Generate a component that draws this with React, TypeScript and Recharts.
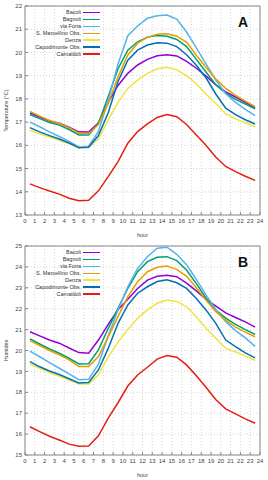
import React from 'react';
import { LineChart, Line, XAxis, YAxis, CartesianGrid, ReferenceArea } from 'recharts';

// half-hour sample points
const hours = [
  0.5, 1.5, 2.5, 3.5, 4.5, 5.5, 6.5, 7.5, 8.5, 9.5, 10.5, 11.5,
  12.5, 13.5, 14.5, 15.5, 16.5, 17.5, 18.5, 19.5, 20.5, 21.5, 22.5, 23.5,
];
const xTicks = [0, 1, 2, 3, 4, 5, 6, 7, 8, 9, 10, 11, 12, 13, 14, 15, 16, 17, 18, 19, 20, 21, 22, 23, 24];
const tempTicks = [13, 14, 15, 16, 17, 18, 19, 20, 21, 22];
const humidexTicks = [15, 16, 17, 18, 19, 20, 21, 22, 23, 24, 25];

const stations = ['Bacoli', 'Bagnoli', 'via Foria', 'S. Marcellino Obs.', 'Denza', 'Capodimonte Obs.', 'Camaldoli'];
const colors = ['#9400d3', '#009e73', '#56b4e9', '#e69f00', '#f0e442', '#0072b2', '#e51e10'];

// panel A - temperature
const bacoliT = [17.4, 17.22, 17.05, 16.95, 16.78, 16.58, 16.57, 16.97, 17.85, 18.58, 19.1, 19.46, 19.7, 19.86, 19.9, 19.85, 19.62, 19.32, 18.98, 18.6, 18.3, 18.08, 17.85, 17.62];
const bagnoliT = [17.33, 17.15, 16.98, 16.87, 16.68, 16.45, 16.44, 16.95, 18.1, 19.3, 20.1, 20.46, 20.66, 20.73, 20.7, 20.56, 20.25, 19.7, 19.15, 18.6, 18.25, 17.98, 17.78, 17.57];
const viaForiaT = [17.0, 16.8, 16.58, 16.38, 16.17, 15.93, 15.96, 16.6, 17.95, 19.5, 20.72, 21.14, 21.47, 21.58, 21.61, 21.44, 20.88, 20.2, 19.5, 18.8, 18.22, 17.85, 17.55, 17.28];
const marcellinoT = [17.46, 17.26, 17.07, 16.94, 16.76, 16.52, 16.51, 16.9, 17.8, 18.95, 19.89, 20.4, 20.65, 20.78, 20.8, 20.7, 20.45, 19.88, 19.35, 18.85, 18.45, 18.15, 17.9, 17.67];
const denzaT = [16.65, 16.5, 16.36, 16.22, 16.07, 15.92, 15.92, 16.28, 17.1, 17.85, 18.45, 18.81, 19.1, 19.3, 19.36, 19.25, 19.0, 18.65, 18.2, 17.8, 17.35, 17.14, 16.97, 16.8];
const capodimonteT = [16.76, 16.58, 16.42, 16.27, 16.1, 15.9, 15.92, 16.42, 17.4, 18.75, 19.67, 20.1, 20.32, 20.42, 20.4, 20.25, 19.9, 19.45, 18.9, 18.2, 17.6, 17.32, 17.1, 16.92];
const camaldoliT = [14.34, 14.18, 14.03, 13.9, 13.72, 13.61, 13.63, 14.04, 14.65, 15.3, 16.09, 16.59, 16.92, 17.2, 17.33, 17.23, 16.9, 16.44, 15.99, 15.49, 15.09, 14.87, 14.67, 14.49];

// panel B - humidex
const bacoliH = [20.9, 20.7, 20.5, 20.35, 20.12, 19.9, 19.87, 20.5, 21.25, 21.95, 22.45, 22.97, 23.37, 23.55, 23.6, 23.53, 23.22, 22.85, 22.45, 22.12, 21.8, 21.58, 21.37, 21.12];
const bagnoliH = [20.56, 20.31, 20.07, 19.87, 19.63, 19.36, 19.37, 20.03, 21.05, 22.02, 22.97, 23.77, 24.25, 24.46, 24.49, 24.3, 23.85, 23.2, 22.5, 21.92, 21.55, 21.25, 21.0, 20.77];
const viaForiaH = [19.97, 19.7, 19.42, 19.15, 18.88, 18.6, 18.62, 19.35, 20.7, 21.94, 23.05, 23.93, 24.49, 24.89, 24.94, 24.6, 24.1, 23.4, 22.65, 21.95, 21.38, 20.95, 20.6, 20.2];
const marcellinoH = [20.47, 20.23, 20.0, 19.79, 19.55, 19.23, 19.23, 19.71, 20.65, 21.62, 22.58, 23.29, 23.77, 23.98, 24.04, 23.88, 23.55, 23.0, 22.4, 21.85, 21.45, 21.12, 20.88, 20.66];
const denzaH = [19.35, 19.15, 18.95, 18.77, 18.58, 18.4, 18.4, 18.84, 19.7, 20.4, 21.0, 21.54, 21.94, 22.26, 22.42, 22.35, 22.09, 21.61, 21.05, 20.58, 20.1, 19.94, 19.73, 19.52];
const capodimonteH = [19.47, 19.22, 19.02, 18.85, 18.65, 18.45, 18.47, 19.07, 20.1, 21.3, 22.18, 22.74, 23.05, 23.3, 23.38, 23.24, 22.97, 22.49, 21.93, 21.29, 20.5, 20.18, 19.89, 19.65];
const camaldoliH = [16.35, 16.12, 15.9, 15.72, 15.52, 15.42, 15.43, 15.92, 16.76, 17.5, 18.3, 18.83, 19.2, 19.59, 19.76, 19.68, 19.31, 18.79, 18.23, 17.64, 17.21, 16.97, 16.73, 16.52];

const tempSeries = [bacoliT, bagnoliT, viaForiaT, marcellinoT, denzaT, capodimonteT, camaldoliT];
const humidexSeries = [bacoliH, bagnoliH, viaForiaH, marcellinoH, denzaH, capodimonteH, camaldoliH];

const FONT = '"Liberation Sans", Arial, sans-serif';
const TEXT = '#444';

function buildRows(series: number[][]) {
  return hours.map((h, i) => {
    const row: Record<string, number> = { hour: h };
    series.forEach((s, k) => {
      row['s' + k] = s[i];
    });
    return row;
  });
}

interface PanelProps {
  series: number[][];
  yTicks: number[];
  yLabel: string;
  letter: string;
}

const Panel = ({ series, yTicks, yLabel, letter }: PanelProps) => {
  const rows = buildRows(series);
  const lo = yTicks[0];
  const hi = yTicks[yTicks.length - 1];
  return (
    <div style={{ position: 'relative', width: 268, height: 240 }}>
      <LineChart width={268} height={240} data={rows} margin={{ top: 6, right: 8, bottom: 0, left: 0 }}>
        <CartesianGrid stroke="#c4c4c4" strokeDasharray="1 2" strokeWidth={0.7} />
        <XAxis
          type="number"
          dataKey="hour"
          domain={[0, 24]}
          ticks={xTicks}
          interval={0}
          height={25}
          axisLine={false}
          tickSize={-3}
          tickMargin={7}
          tickLine={{ stroke: '#888' }}
          tick={{ fontSize: 6, fill: TEXT, fontFamily: FONT }}
          label={{ value: 'hour', position: 'insideBottom', offset: 3, fontSize: 5.5, fill: TEXT, fontFamily: FONT }}
        />
        <YAxis
          type="number"
          domain={[lo, hi]}
          ticks={yTicks}
          interval={0}
          width={25}
          axisLine={false}
          tickSize={-3}
          tickMargin={6}
          tickLine={{ stroke: '#888' }}
          tick={{ fontSize: 6, fill: TEXT, fontFamily: FONT }}
          label={{
            value: yLabel,
            angle: -90,
            position: 'insideLeft',
            offset: 6,
            fontSize: 5.5,
            fill: TEXT,
            fontFamily: FONT,
            style: { textAnchor: 'middle' },
          }}
        />
        {stations.map((name, k) => (
          <Line
            key={name}
            type="linear"
            dataKey={'s' + k}
            name={name}
            stroke={colors[k]}
            strokeWidth={1.5}
            dot={false}
            isAnimationActive={false}
          />
        ))}
        <ReferenceArea x1={0} x2={24} y1={lo} y2={hi} fill="none" stroke="#888" strokeWidth={1} ifOverflow="visible" />
      </LineChart>
      <div style={{ position: 'absolute', top: 9.2, left: 0, width: 100 }}>
        {stations.map((name, k) => (
          <div key={name} style={{ display: 'flex', justifyContent: 'flex-end', alignItems: 'center', height: 6.9 }}>
            <span style={{ fontFamily: FONT, fontSize: 5.5, lineHeight: '6.9px', color: '#333', marginRight: 2, whiteSpace: 'nowrap' }}>
              {name}
            </span>
            <div style={{ width: 17, height: 1.6, background: colors[k] }} />
          </div>
        ))}
      </div>
      <div style={{ position: 'absolute', top: 15, left: 238, fontFamily: FONT, fontWeight: 'bold', fontSize: 14, lineHeight: '14px', color: '#111' }}>
        {letter}
      </div>
    </div>
  );
};

export default function App() {
  return (
    <div style={{ position: 'absolute', left: 0, top: 0, width: 268, height: 480, background: '#fff' }}>
      <Panel series={tempSeries} yTicks={tempTicks} yLabel="Temperature (°C)" letter="A" />
      <Panel series={humidexSeries} yTicks={humidexTicks} yLabel="Humidex" letter="B" />
    </div>
  );
}
